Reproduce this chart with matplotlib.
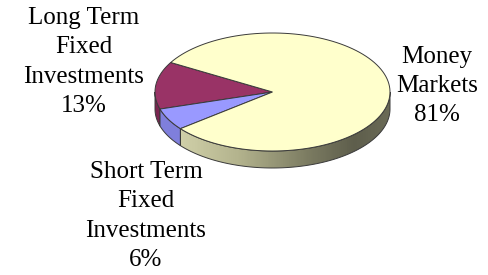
import numpy as np
import matplotlib.pyplot as plt
from matplotlib.patches import Polygon
from matplotlib.colors import LinearSegmentedColormap

# data (counter-clockwise from the start angle)
labels = ["Long Term\nFixed\nInvestments\n13%",
          "Short Term\nFixed\nInvestments\n6%",
          "Money\nMarkets\n81%"]
values = [13, 6, 81]
top_colors = ["#993366", "#9999ff", "#ffffcc"]
side_colors = ["#7a2550", "#7f7fdc", None]
start_angle = 150.0

# pie geometry in pixels
cx, cy = 272.5, 92.0
a, b = 117.5, 59.0
depth = 17.0
edge = "#3a3a3a"

plt.rcParams['font.family'] = ['Liberation Serif', 'DejaVu Serif']

fig = plt.figure(figsize=(4.89, 2.75), dpi=100)
ax = fig.add_axes([0, 0, 1, 1])
ax.set_xlim(0, 489)
ax.set_ylim(275, 0)
ax.axis("off")


def arc(t0, t1, n=120, dy=0.0):
    t = np.radians(np.linspace(t0, t1, n))
    return np.column_stack([cx + a * np.cos(t), cy - b * np.sin(t) + dy])


fracs = np.array(values) / sum(values)
bounds = start_angle + 360 * np.concatenate([[0], np.cumsum(fracs)])

# yellow side gradient
side_cmap = LinearSegmentedColormap.from_list(
    "side", [(0.0, "#dcdcb4"), (0.35, "#b4b48e"), (0.65, "#7c7c62"),
             (0.85, "#5e5e4c"), (1.0, "#6a6a56")])

# side walls (front half only: 180..360 deg)
for i in range(len(values)):
    t0, t1 = bounds[i], bounds[i + 1]
    for off in (-360, 0, 360):
        s0, s1 = max(t0 + off, 180), min(t1 + off, 360)
        if s1 <= s0:
            continue
        top = arc(s0, s1)
        bot = arc(s1, s0, dy=depth)
        pts = np.vstack([top, bot])
        if side_colors[i] is None:
            poly = Polygon(pts, closed=True, facecolor="none", edgecolor="none")
            ax.add_patch(poly)
            x0, x1 = pts[:, 0].min(), pts[:, 0].max()
            grad = np.linspace((x0 - (cx - a)) / (2 * a), (x1 - (cx - a)) / (2 * a), 200)
            im = ax.imshow(grad[None, :], cmap=side_cmap, vmin=0, vmax=1, aspect="auto",
                           extent=(x0, x1, pts[:, 1].max(), pts[:, 1].min()), zorder=1)
            im.set_clip_path(poly)
            ax.add_patch(Polygon(pts, closed=True, facecolor="none", edgecolor=edge,
                                 linewidth=0.7, zorder=2))
        else:
            ax.add_patch(Polygon(pts, closed=True, facecolor=side_colors[i],
                                 edgecolor=edge, linewidth=0.7, zorder=2))

# top faces
for i in range(len(values)):
    pts = np.vstack([[cx, cy], arc(bounds[i], bounds[i + 1])])
    ax.add_patch(Polygon(pts, closed=True, facecolor=top_colors[i],
                         edgecolor=edge, linewidth=0.7, zorder=3))

# labels
txt = dict(fontsize=18, ha="center", va="center", linespacing=1.42, color="black")
ax.text(84, 62, labels[0], **txt)
ax.text(146, 216, labels[1], **txt)
ax.text(437, 86, labels[2], **txt)

fig.savefig("out.png", dpi=100)
